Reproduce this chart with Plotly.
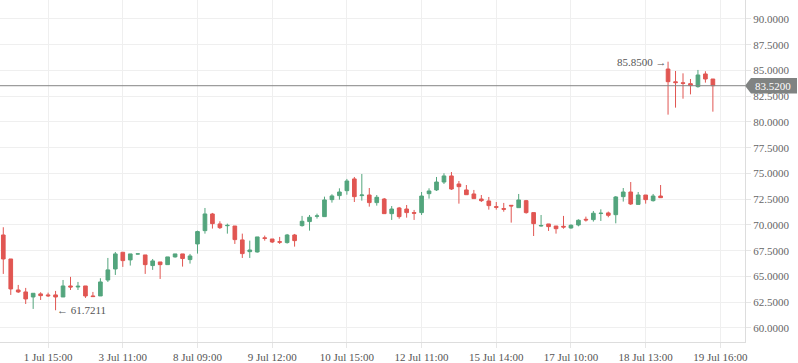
import plotly.graph_objects as go

# ---- data ----
opens = [69.03, 66.70, 63.69, 63.50, 63.01, 63.31, 63.21, 63.21, 63.01, 64.08,
         63.98, 64.08, 63.11, 63.11, 64.66, 65.73, 67.35, 66.61, 67.19, 67.09,
         66.06, 66.41, 66.15, 66.90, 67.19, 66.64, 68.16, 69.45, 71.07, 70.10,
         69.93, 69.90, 68.55, 67.41, 67.38, 68.75, 68.64, 68.38, 68.29, 69.03,
         69.94, 70.33, 70.85, 70.81, 72.46, 72.85, 73.33, 74.47, 72.85, 72.91,
         72.17, 72.52, 71.10, 71.65, 71.55, 71.20, 71.20, 73.04, 73.40, 74.17,
         74.76, 73.98, 73.40, 73.01, 72.52, 72.33, 71.78, 71.59, 71.91, 71.68,
         72.36, 71.20, 69.90, 70.10, 69.90, 69.87, 69.71, 70.00, 70.55, 70.52,
         71.11, 71.17, 71.00, 72.75, 73.20, 72.00, 72.91, 72.36, 72.81, 85.14,
         83.90, 83.80, 83.72, 83.43, 84.66, 84.17]
highs = [69.78, 66.70, 64.18, 63.89, 63.37, 63.47, 63.43, 63.60, 64.66, 64.96,
         64.47, 64.08, 63.50, 64.83, 66.80, 67.38, 67.35, 67.19, 67.20, 67.09,
         66.70, 66.41, 66.90, 67.19, 67.19, 67.19, 69.45, 71.65, 71.17, 70.36,
         70.13, 69.90, 69.16, 68.48, 68.84, 68.97, 68.64, 68.84, 69.13, 69.13,
         70.88, 70.97, 71.10, 72.75, 72.98, 73.56, 74.47, 74.66, 74.95, 73.59,
         72.91, 72.62, 71.84, 71.75, 71.94, 71.46, 73.20, 73.56, 74.66, 75.02,
         75.14, 74.27, 73.88, 73.40, 72.91, 72.72, 72.23, 72.14, 71.91, 73.01,
         72.43, 71.20, 70.97, 70.10, 69.90, 70.88, 70.07, 70.55, 70.81, 71.36,
         71.52, 71.30, 72.81, 73.59, 74.17, 73.20, 72.91, 73.01, 73.88, 85.85,
         84.95, 84.72, 84.17, 85.05, 84.92, 84.17]
lows = [65.25, 63.21, 63.40, 62.33, 61.85, 62.72, 63.01, 61.7211, 63.01, 63.69,
        63.69, 62.92, 63.05, 63.11, 64.47, 65.15, 65.93, 66.06, 67.15, 65.25,
        65.64, 64.76, 66.15, 66.83, 65.96, 66.25, 67.22, 69.16, 69.65, 69.61,
        69.16, 68.16, 66.80, 66.80, 67.32, 68.48, 68.25, 68.16, 68.19, 67.90,
        69.84, 69.45, 70.62, 70.81, 72.17, 72.46, 72.94, 72.23, 72.36, 71.78,
        71.88, 71.10, 70.49, 70.61, 70.71, 70.49, 70.97, 72.56, 73.30, 73.98,
        73.40, 72.07, 72.94, 72.56, 72.23, 71.49, 71.49, 71.29, 70.23, 71.68,
        71.10, 68.93, 69.84, 69.42, 69.16, 69.64, 69.64, 69.87, 70.33, 70.33,
        70.39, 70.75, 70.16, 72.27, 71.94, 72.00, 72.07, 72.27, 72.65, 80.71,
        81.39, 82.26, 82.68, 83.33, 83.82, 81.00]
closes = [66.70, 63.79, 63.50, 62.82, 63.37, 63.14, 63.13, 63.01, 64.08, 63.98,
          64.05, 63.11, 63.05, 64.47, 65.64, 67.19, 66.54, 67.19, 67.19, 66.15,
          66.51, 66.15, 66.90, 67.19, 66.74, 66.99, 69.36, 71.07, 70.13, 69.74,
          69.96, 68.58, 67.22, 67.57, 68.84, 68.70, 68.35, 68.33, 69.03, 68.48,
          70.36, 70.75, 70.88, 72.43, 72.82, 73.20, 74.27, 72.75, 72.91, 72.17,
          72.69, 71.10, 71.55, 70.81, 71.20, 71.14, 72.81, 73.30, 74.17, 74.76,
          73.49, 73.72, 72.94, 72.56, 72.36, 71.88, 71.72, 71.53, 71.85, 72.43,
          71.20, 70.13, 69.95, 69.84, 69.64, 69.80, 69.97, 70.46, 70.49, 71.14,
          71.14, 70.94, 72.72, 73.20, 72.04, 72.91, 72.46, 72.81, 72.65, 83.91,
          83.82, 83.75, 83.53, 84.56, 84.17, 83.52]

tick_labels = ["1 Jul 15:00", "3 Jul 11:00", "8 Jul 09:00", "9 Jul 12:00",
               "10 Jul 15:00", "12 Jul 11:00", "15 Jul 14:00", "17 Jul 10:00",
               "18 Jul 13:00", "19 Jul 16:00"]
y_ticks = [60.0, 62.5, 65.0, 67.5, 70.0, 72.5, 75.0, 77.5, 80.0, 82.5, 85.0, 87.5, 90.0]

x_idx = list(range(len(opens)))
tick_pos = [6 + 10 * i for i in range(len(tick_labels))]

UP = "#53a57d"
DOWN = "#e15652"
FONT = "Liberation Serif"

fig = go.Figure(go.Candlestick(
    x=x_idx, open=opens, high=highs, low=lows, close=closes,
    increasing=dict(line=dict(color=UP, width=1), fillcolor=UP),
    decreasing=dict(line=dict(color=DOWN, width=1), fillcolor=DOWN),
    whiskerwidth=0, hoverinfo="skip", showlegend=False,
))

last = closes[-1]
hi_i = max(range(len(highs)), key=lambda i: highs[i])
lo_i = min(range(len(lows)), key=lambda i: lows[i])

W, H = 798, 363
ML, MR, MT, MB = 0, 53, 0, 21
plot_w = W - ML - MR
y_range = [58.64, 91.84]
ppu = (H - MT - MB) / (y_range[1] - y_range[0])
half = 7.8 / ppu

# price line
fig.add_shape(type="line", xref="paper", yref="y", x0=0, x1=1, y0=last, y1=last,
              line=dict(color="#858585", width=1), layer="above")
# last price tag
p = lambda px: 1 + px / plot_w
path = (f"M {p(0)},{last} L {p(6)},{last + half} L {p(52)},{last + half} "
        f"L {p(52)},{last - half} L {p(6)},{last - half} Z")
fig.add_shape(type="path", xref="paper", yref="y", path=path,
              fillcolor="#808382", line=dict(width=0), layer="above")
fig.add_annotation(xref="paper", yref="y", x=p(28), y=last, text=f"{last:.4f}",
                   showarrow=False, xanchor="center", yanchor="middle",
                   font=dict(family=FONT, size=11, color="white"))

fig.add_annotation(x=hi_i, y=highs[hi_i], text=f"{highs[hi_i]:.4f} →", showarrow=False,
                   xanchor="right", yanchor="middle", xshift=1,
                   font=dict(family=FONT, size=11, color="#555555"))
fig.add_annotation(x=lo_i, y=lows[lo_i], text=f"← {lows[lo_i]:.4f}", showarrow=False,
                   xanchor="left", yanchor="middle", xshift=-1,
                   font=dict(family=FONT, size=11, color="#555555"))

fig.update_layout(
    width=W, height=H,
    margin=dict(l=ML, r=MR, t=MT, b=MB),
    paper_bgcolor="white", plot_bgcolor="white",
    showlegend=False, hovermode=False,
    boxgap=0.3,
    xaxis=dict(range=[-0.44, 99.3], rangeslider=dict(visible=False),
               tickmode="array", tickvals=tick_pos, ticktext=tick_labels,
               showgrid=True, gridcolor="#efefef", gridwidth=1,
               ticks="outside", ticklen=5, tickcolor="#e6e6e6",
               showline=True, linecolor="#dddddd", linewidth=1,
               zeroline=False,
               tickfont=dict(family=FONT, size=11, color="#555555")),
    yaxis=dict(range=y_range, side="right",
               tickmode="array", tickvals=y_ticks,
               ticktext=[f"{v:.4f}" for v in y_ticks],
               showgrid=True, gridcolor="#efefef", gridwidth=1,
               ticks="outside", ticklen=5, tickcolor="#e6e6e6",
               showline=True, linecolor="#dddddd", linewidth=1,
               zeroline=False,
               tickfont=dict(family=FONT, size=11, color="#666666")),
)

fig.write_html("out.html", config={"displayModeBar": False},
               post_script="document.body.style.margin='0';document.body.style.overflow='hidden';")
